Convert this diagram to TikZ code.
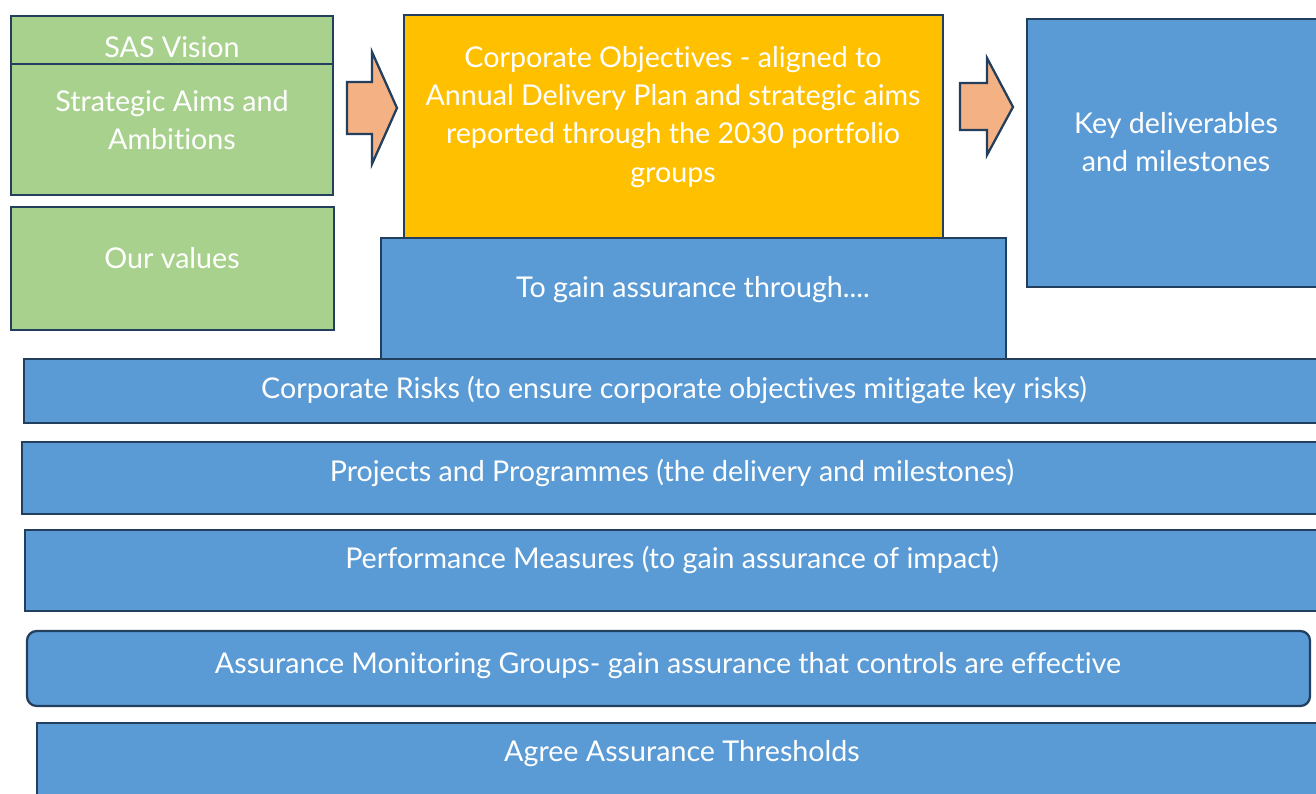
\documentclass[tikz,border=0pt]{standalone}
\usepackage{fontspec}
\setmainfont{Lato}[Ligatures={NoCommon}]
\definecolor{edge}{HTML}{22405E}
\definecolor{leaf}{HTML}{A9D18E}
\definecolor{sky}{HTML}{5B9BD5}
\definecolor{gold}{HTML}{FFC000}
\definecolor{peach}{HTML}{F4B183}
\begin{document}
\begin{tikzpicture}[x=0.02cm,y=-0.02cm,
    box/.style={draw=edge,line width=1.3pt},
    lbl/.style={text=white,align=center,inner sep=0pt,font=\fontsize{16.3}{21.7}\selectfont}]
  \useasboundingbox (0,0) rectangle (1316,794);
  \clip (0,0) rectangle (1316,794);
  \draw[box,fill=leaf] (11,16) rectangle (333,64);
  \draw[box,fill=leaf] (11,64) rectangle (333,195);
  \draw[box,fill=leaf] (11,207) rectangle (334,330);
  \draw[box,fill=peach,line join=miter] (347,82) -- (372,82) -- (372,52) -- (397,108) -- (372,164) -- (372,134) -- (347,134) -- cycle;
  \draw[box,fill=gold] (404,15) rectangle (943,250);
  \draw[box,fill=peach,line join=miter] (960,83) -- (987,83) -- (987,58) -- (1013,107) -- (987,155) -- (987,130) -- (960,130) -- cycle;
  \draw[box,fill=sky] (1027,19) rectangle (1330,287);
  \draw[box,fill=sky] (381,238) rectangle (1006,360);
  \draw[box,fill=sky] (24,359) rectangle (1330,423);
  \draw[box,fill=sky] (22,442) rectangle (1330,514);
  \draw[box,fill=sky] (25,530) rectangle (1330,611);
  \draw[box,fill=sky,rounded corners=5.5pt] (27,631) rectangle (1310,706);
  \draw[box,fill=sky] (37,723) rectangle (1330,810);
  \node[lbl] (vision) at (172,47) {SAS Vision};
  \node[lbl] (aims) at (172,120) {Strategic Aims and\\Ambitions};
  \node[lbl] (values) at (172,258) {Our values};
  \node[lbl] (objectives) at (673,117) {Corporate Objectives - aligned to\\Annual Delivery Plan and strategic aims\\reported through the 2030 portfolio\\groups};
  \node[lbl] (deliverables) at (1176,142) {Key deliverables\\and milestones};
  \node[lbl] (gain) at (693,290) {To gain assurance through....};
  \node[lbl] (risks) at (674,390) {Corporate Risks (to ensure corporate objectives mitigate key risks)};
  \node[lbl] (projects) at (672,473) {Projects and Programmes (the delivery and milestones)};
  \node[lbl] (measures) at (672,560) {Performance Measures (to gain assurance of impact)};
  \node[lbl] (monitoring) at (668,666) {Assurance Monitoring Groups- gain assurance that controls are effective};
  \node[lbl] (thresholds) at (682,754) {Agree Assurance Thresholds};
\end{tikzpicture}
\end{document}
